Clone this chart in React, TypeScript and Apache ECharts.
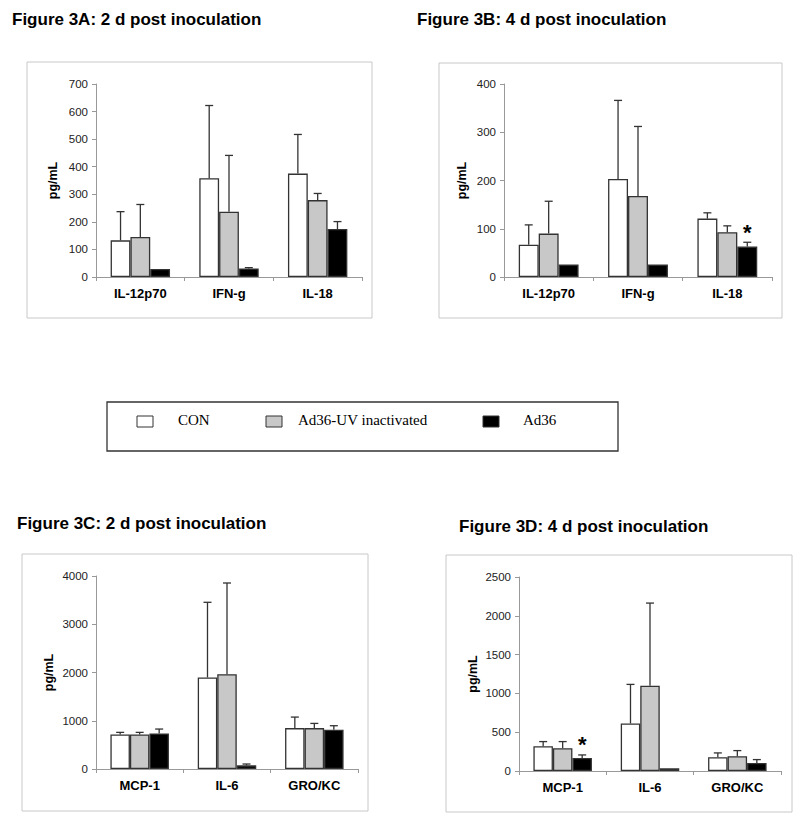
import React, { useEffect, useRef } from "react";
import * as echarts from "echarts";

const catsTop = ["IL-12p70", "IFN-g", "IL-18"];
const catsBottom = ["MCP-1", "IL-6", "GRO/KC"];
const seriesNames = ["CON", "Ad36-UV inactivated", "Ad36"];
const seriesColors = ["#ffffff", "#c8c8c8", "#000000"];

// Figure 3A: 2 d (IL-12p70, IFN-g, IL-18)
const aCon = [133, 358, 375];
const aUv = [145, 237, 279];
const aAd = [29, 31, 174];
const aConSD = [104, 264, 142];
const aUvSD = [118, 204, 24];
const aAdSD = [0, 3, 27];

// Figure 3B: 4 d
const bCon = [67, 203, 121];
const bUv = [90, 168, 93];
const bAd = [26, 26, 63];
const bConSD = [41, 163, 12];
const bUvSD = [67, 144, 13];
const bAdSD = [0, 0, 9];
const bStar = [0, 0, 1]; // Ad36 significance per category

// Figure 3C: 2 d (MCP-1, IL-6, GRO/KC)
const cCon = [717, 1897, 848];
const cUv = [717, 1966, 848];
const cAd = [738, 76, 814];
const cConSD = [42, 1558, 228];
const cUvSD = [42, 1889, 97];
const cAdSD = [90, 27, 83];

// Figure 3D: 4 d
const dCon = [319, 612, 177];
const dUv = [293, 1099, 190];
const dAd = [168, 34, 103];
const dConSD = [60, 504, 56];
const dUvSD = [86, 1065, 73];
const dAdSD = [39, 0, 44];
const dStar = [1, 0, 0];

const yMaxes = [700, 400, 4000, 2500];
const yIntervals = [100, 100, 1000, 500];

const titles = [
  "Figure 3A: 2 d post inoculation",
  "Figure 3B: 4 d post inoculation",
  "Figure 3C: 2 d post inoculation",
  "Figure 3D: 4 d post inoculation",
];

const FONT = "'Liberation Sans', Arial, sans-serif";
const SERIF = "'Liberation Serif', 'Times New Roman', serif";
const GAP = 0.33;

export default function App() {
  const ref = useRef<HTMLDivElement>(null);
  useEffect(() => {
    if (!ref.current) return;
    const chart = echarts.init(ref.current, undefined, { renderer: "svg" });

    const panels = [
      { cats: catsTop, means: [aCon, aUv, aAd], sds: [aConSD, aUvSD, aAdSD], star: [0, 0, 0] },
      { cats: catsTop, means: [bCon, bUv, bAd], sds: [bConSD, bUvSD, bAdSD], star: bStar },
      { cats: catsBottom, means: [cCon, cUv, cAd], sds: [cConSD, cUvSD, cAdSD], star: [0, 0, 0] },
      { cats: catsBottom, means: [dCon, dUv, dAd], sds: [dConSD, dUvSD, dAdSD], star: dStar },
    ];

    const grids = [
      { left: 96, top: 84, width: 266, height: 193 },
      { left: 504, top: 84, width: 268, height: 193 },
      { left: 96, top: 576, width: 262, height: 193 },
      { left: 519, top: 577, width: 262, height: 194 },
    ];
    const nameGaps = [37, 36, 41, 40];
    const frames = [
      { x: 27, y: 62, width: 345, height: 256 },
      { x: 439, y: 63, width: 343, height: 255 },
      { x: 22, y: 554, width: 346, height: 257 },
      { x: 446, y: 555, width: 346, height: 257 },
    ];
    const titlePos = [
      [12, 19],
      [417, 19],
      [17, 523],
      [459, 526],
    ];

    const xAxis: any[] = [];
    const yAxis: any[] = [];
    const series: any[] = [];

    panels.forEach((p, g) => {
      xAxis.push({
        type: "category",
        gridIndex: g,
        data: p.cats,
        axisLine: { lineStyle: { color: "#999", width: 1 } },
        axisTick: { show: true, length: 4, lineStyle: { color: "#999" } },
        axisLabel: { fontFamily: FONT, fontWeight: "bold", fontSize: 13, color: "#000", margin: 10 },
      });
      yAxis.push({
        type: "value",
        gridIndex: g,
        min: 0,
        max: yMaxes[g],
        interval: yIntervals[g],
        axisLine: { show: true, lineStyle: { color: "#999", width: 1 } },
        axisTick: { show: true, length: 4, lineStyle: { color: "#999" } },
        splitLine: { show: false },
        axisLabel: {
          fontFamily: FONT,
          fontSize: 11.5,
          color: "#222",
          margin: 8,
          formatter: (v: number) => String(v),
        },
        name: "pg/mL",
        nameLocation: "middle",
        nameGap: nameGaps[g],
        nameTextStyle: { fontFamily: FONT, fontWeight: "bold", fontSize: 12.5, color: "#000" },
      });
      p.means.forEach((vals, k) => {
        series.push({
          type: "bar",
          name: seriesNames[k],
          xAxisIndex: g,
          yAxisIndex: g,
          data: vals,
          barGap: "0%",
          barCategoryGap: GAP * 100 + "%",
          itemStyle: { color: seriesColors[k], borderColor: "#333", borderWidth: 1.3 },
          z: 2,
        });
      });
      const errData: any[] = [];
      p.means.forEach((vals, k) => {
        vals.forEach((m, c) => {
          const star = k === 2 ? p.star[c] : 0;
          errData.push([c, m, m + p.sds[k][c], k, star]);
        });
      });
      series.push({
        type: "custom",
        xAxisIndex: g,
        yAxisIndex: g,
        z: 5,
        data: errData,
        encode: { x: 0, y: [1, 2] },
        renderItem: (params: any, api: any) => {
          const c = api.value(0);
          const m = api.value(1);
          const hi = api.value(2);
          const k = api.value(3);
          const star = api.value(4);
          const p0 = api.coord([c, m]);
          const p1 = api.coord([c, hi]);
          const band = api.size([1, 0])[0];
          const barW = (band * (1 - GAP)) / 3;
          const x = p0[0] + (k - 1) * barW;
          const children: any[] = [];
          if (hi > m) {
            children.push({
              type: "line",
              shape: { x1: x, y1: p0[1], x2: x, y2: p1[1] },
              style: { stroke: "#333", lineWidth: 1.3 },
            });
            children.push({
              type: "line",
              shape: { x1: x - 4, y1: p1[1], x2: x + 4, y2: p1[1] },
              style: { stroke: "#333", lineWidth: 1.3 },
            });
          }
          if (star) {
            children.push({
              type: "text",
              x: x,
              y: p1[1] - 10,
              style: {
                text: "*",
                fontFamily: FONT,
                fontWeight: "bold",
                fontSize: 22,
                fill: "#000",
                align: "center",
                verticalAlign: "middle",
              },
            });
          }
          return { type: "group", children };
        },
      });
    });

    const graphic: any[] = [];
    frames.forEach((f) => {
      graphic.push({
        type: "rect",
        shape: { x: f.x, y: f.y, width: f.width, height: f.height },
        style: { fill: "none", stroke: "#c8c8c8", lineWidth: 1 },
        z: 0,
      });
    });
    titles.forEach((t, i) => {
      graphic.push({
        type: "text",
        x: titlePos[i][0],
        y: titlePos[i][1],
        style: {
          text: t,
          fontFamily: FONT,
          fontWeight: "bold",
          fontSize: 17,
          fill: "#000",
          align: "left",
          verticalAlign: "middle",
        },
      });
    });
    // legend
    graphic.push({
      type: "rect",
      shape: { x: 107, y: 402, width: 511, height: 49 },
      style: { fill: "#fff", stroke: "#333", lineWidth: 1.3 },
    });
    const legSquareX = [137, 266, 483];
    const legTextX = [178, 298, 523];
    seriesNames.forEach((n, k) => {
      graphic.push({
        type: "rect",
        shape: { x: legSquareX[k], y: 416, width: 16, height: 11 },
        style: { fill: seriesColors[k], stroke: "#333", lineWidth: 1 },
        z: 10,
      });
      graphic.push({
        type: "text",
        x: legTextX[k],
        y: 420,
        z: 10,
        style: {
          text: n,
          fontFamily: SERIF,
          fontSize: 15,
          fill: "#000",
          align: "left",
          verticalAlign: "middle",
        },
      });
    });

    chart.setOption({
      animation: false,
      backgroundColor: "#fff",
      grid: grids,
      xAxis,
      yAxis,
      series,
      graphic,
    });
    return () => chart.dispose();
  }, []);
  return (
    <div
      ref={ref}
      style={{ position: "fixed", left: 0, top: 0, width: 800, height: 823, background: "#fff" }}
    />
  );
}
